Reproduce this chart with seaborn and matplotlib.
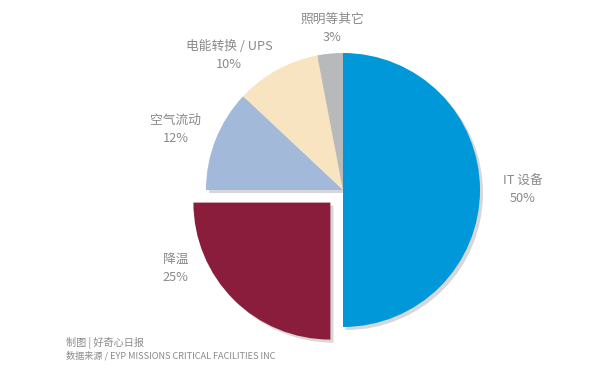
import matplotlib
matplotlib.use("Agg")
import matplotlib.pyplot as plt
import seaborn as sns

# data
categories = ["IT 设备", "降温", "空气流动", "电能转换 / UPS", "照明等其它"]
shares = [50, 25, 12, 10, 3]
colors = ["#0098d8", "#8b1d3c", "#a3b9da", "#f8e4c0", "#b7b9bb"]
explode = [0, 0.13, 0, 0, 0]

# label centres, in pie-radius units
label_pos = [(1.31, 0.0), (-1.22, -0.57), (-1.22, 0.44), (-0.83, 0.98), (-0.08, 1.18)]

sns.set_theme(style="white")
plt.rcParams["font.family"] = ["Noto Sans CJK SC", "DejaVu Sans"]

fig = plt.figure(figsize=(6, 3.77), dpi=100)
ax = fig.add_axes([0, 0, 1, 1])

ax.pie(shares, colors=colors, explode=explode, startangle=90, counterclock=False,
       radius=1, wedgeprops=dict(linewidth=0),
       shadow=dict(ox=0.016, oy=-0.016, facecolor="#a8a8a8", edgecolor="none", alpha=0.45))

for (x, y), name, pct in zip(label_pos, categories, shares):
    ax.text(x, y, f"{name}\n{pct}%", ha="center", va="center", fontsize=9.2,
            color="#8a8a8a", linespacing=1.5)

# pie centre sits at (343, 190) px with radius 137 px
r = 137
ax.set_xlim(-343 / r, (600 - 343) / r)
ax.set_ylim(-(377 - 190) / r, 190 / r)
ax.set_aspect("equal")
ax.axis("off")

fig.text(66 / 600, 1 - 343 / 377, "制图 | 好奇心日报", fontsize=7.3, color="#8a8a8a", va="center")
fig.text(66 / 600, 1 - 356 / 377, "数据来源 / EYP MISSIONS CRITICAL FACILITIES INC",
         fontsize=6.6, color="#8a8a8a", va="center")

fig.savefig("out.png", dpi=100)
